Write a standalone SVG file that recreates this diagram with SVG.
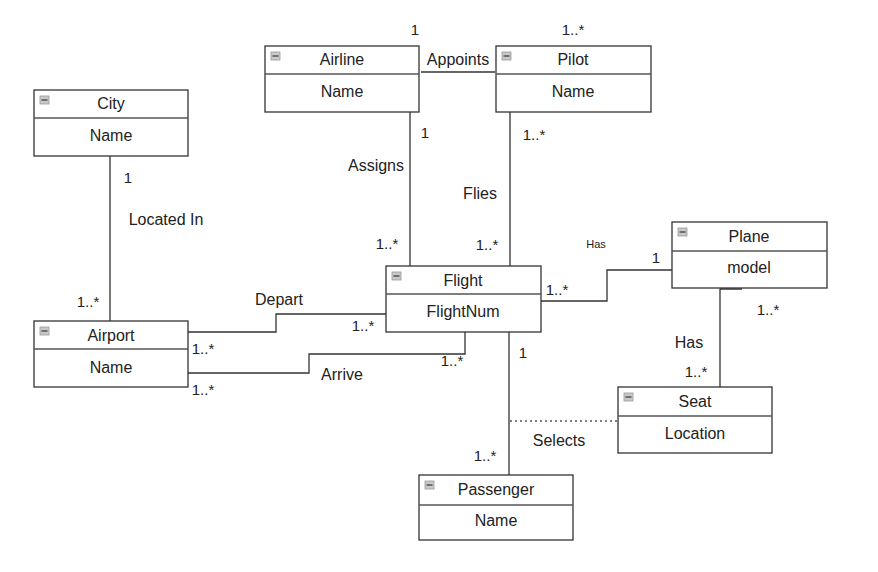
<svg xmlns="http://www.w3.org/2000/svg" width="878" height="572" viewBox="0 0 878 572">
<defs>
<style>
.box{fill:#fff;stroke:#333;stroke-width:1.3}
.div{stroke:#555;stroke-width:1.3}
.t{font-family:"Liberation Sans",Arial,sans-serif;font-size:16px;fill:#222;text-anchor:middle}
.l{font-family:"Liberation Sans",Arial,sans-serif;font-size:15px;fill:#222;text-anchor:middle}
.s{font-family:"Liberation Sans",Arial,sans-serif;font-size:11px;fill:#222;text-anchor:middle}
.c{fill:none;stroke:#333;stroke-width:1.3}
.d{fill:none;stroke:#555;stroke-width:1.3;stroke-dasharray:2,3}
</style>
<g id="icon">
<rect x="0" y="0" width="9" height="8" fill="#c8c8c8" stroke="#999" stroke-width="0.8"/>
<line x1="1.5" y1="4" x2="7.5" y2="4" stroke="#555" stroke-width="1.5"/>
</g>
</defs>
<rect width="878" height="572" fill="#fff"/>
<g id="connectors">
<line class="c" x1="421" y1="72" x2="495" y2="72"/>
<line class="c" x1="410" y1="112" x2="410" y2="266"/>
<line class="c" x1="510" y1="112" x2="510" y2="266"/>
<line class="c" x1="110" y1="156" x2="110" y2="321"/>
<polyline class="c" points="188,332 276,332 276,314 386,314"/>
<polyline class="c" points="188,373 309,373 309,354 465,354 465,332"/>
<line class="c" x1="509" y1="332" x2="509" y2="475"/>
<polyline class="c" points="541,301 607,301 607,270 672,270"/>
<polyline class="c" points="742,289 720,289 720,387"/>
<line class="d" x1="510" y1="421" x2="617" y2="421"/>
<text class="l" x="415" y="35">1</text>
<text class="l" x="573" y="35">1..*</text>
<text class="t" x="458" y="65">Appoints</text>
<text class="l" x="425" y="138">1</text>
<text class="t" x="376" y="171">Assigns</text>
<text class="l" x="387" y="249">1..*</text>
<text class="l" x="534" y="140">1..*</text>
<text class="t" x="480" y="199">Flies</text>
<text class="l" x="487" y="250">1..*</text>
<text class="l" x="128" y="183">1</text>
<text class="t" x="166" y="225">Located In</text>
<text class="l" x="88" y="307">1..*</text>
<text class="t" x="279" y="305">Depart</text>
<text class="l" x="363" y="331">1..*</text>
<text class="l" x="203" y="354">1..*</text>
<text class="t" x="342" y="380">Arrive</text>
<text class="l" x="452" y="366">1..*</text>
<text class="l" x="203" y="395">1..*</text>
<text class="l" x="523" y="358">1</text>
<text class="l" x="485" y="461">1..*</text>
<text class="t" x="559" y="446">Selects</text>
<text class="s" x="596" y="248">Has</text>
<text class="l" x="656" y="263">1</text>
<text class="l" x="557" y="295">1..*</text>
<text class="l" x="768" y="315">1..*</text>
<text class="t" x="689" y="348">Has</text>
<text class="l" x="696" y="377">1..*</text>
</g>
<g id="airline">
<rect class="box" x="265" y="46" width="154" height="66"/>
<line class="div" x1="265" y1="74" x2="419" y2="74"/>
<use href="#icon" x="271" y="52"/>
<text class="t" x="342" y="65">Airline</text>
<text class="t" x="342" y="97">Name</text>
</g>
<g id="pilot">
<rect class="box" x="496" y="46" width="155" height="66"/>
<line class="div" x1="496" y1="74" x2="651" y2="74"/>
<use href="#icon" x="502" y="52"/>
<text class="t" x="573" y="65">Pilot</text>
<text class="t" x="573" y="97">Name</text>
</g>
<g id="city">
<rect class="box" x="34" y="90" width="154" height="66"/>
<line class="div" x1="34" y1="118" x2="188" y2="118"/>
<use href="#icon" x="40" y="96"/>
<text class="t" x="111" y="109">City</text>
<text class="t" x="111" y="141">Name</text>
</g>
<g id="airport">
<rect class="box" x="34" y="321" width="154" height="66"/>
<line class="div" x1="34" y1="349" x2="188" y2="349"/>
<use href="#icon" x="40" y="327"/>
<text class="t" x="111" y="341">Airport</text>
<text class="t" x="111" y="373">Name</text>
</g>
<g id="flight">
<rect class="box" x="386" y="266" width="155" height="66"/>
<line class="div" x1="386" y1="294" x2="541" y2="294"/>
<use href="#icon" x="392" y="272"/>
<text class="t" x="463" y="286">Flight</text>
<text class="t" x="463" y="317">FlightNum</text>
</g>
<g id="plane">
<rect class="box" x="672" y="222" width="155" height="66"/>
<line class="div" x1="672" y1="251" x2="827" y2="251"/>
<use href="#icon" x="678" y="228"/>
<text class="t" x="749" y="242">Plane</text>
<text class="t" x="749" y="273">model</text>
</g>
<g id="seat">
<rect class="box" x="618" y="387" width="154" height="66"/>
<line class="div" x1="618" y1="416" x2="772" y2="416"/>
<use href="#icon" x="624" y="393"/>
<text class="t" x="695" y="407">Seat</text>
<text class="t" x="695" y="439">Location</text>
</g>
<g id="passenger">
<rect class="box" x="419" y="475" width="154" height="65"/>
<line class="div" x1="419" y1="505" x2="573" y2="505"/>
<use href="#icon" x="425" y="481"/>
<text class="t" x="496" y="495">Passenger</text>
<text class="t" x="496" y="526">Name</text>
</g>
</svg>
